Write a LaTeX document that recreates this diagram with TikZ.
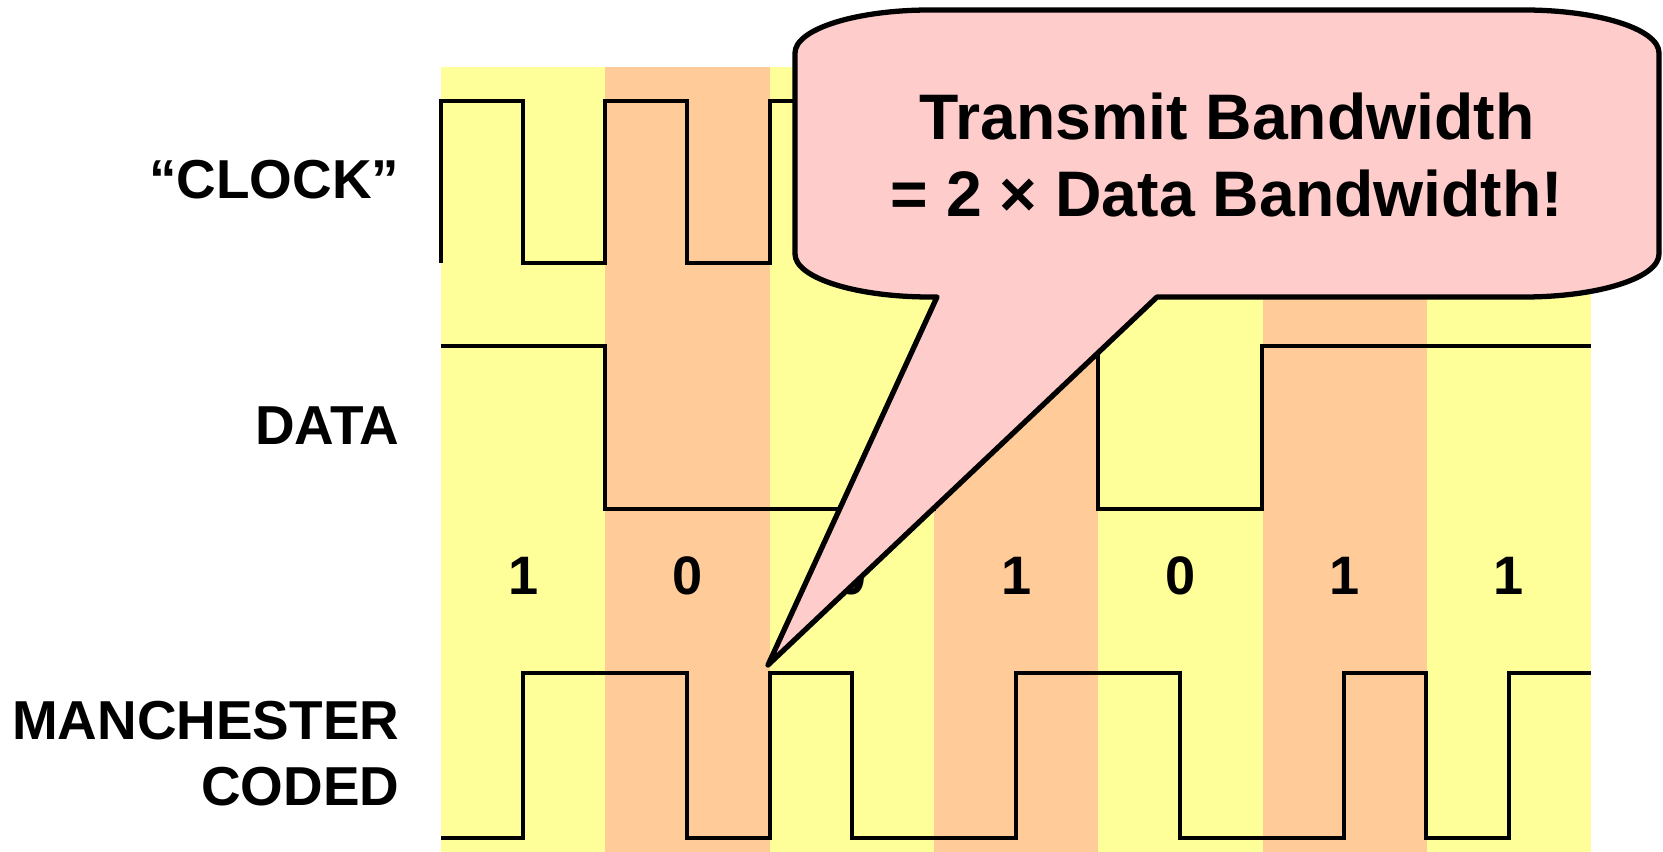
\documentclass[tikz,border=0pt]{standalone}
\usepackage{fontspec}
\setmainfont{Liberation Sans}
\usepackage{tikz}
\definecolor{lyellow}{RGB}{255,255,153}
\definecolor{lorange}{RGB}{255,204,153}
\definecolor{lpink}{RGB}{255,204,204}

\begin{document}
\begin{tikzpicture}[x=0.01cm,y=-0.01cm]
\tikzstyle{lbl}=[inner sep=0pt,font=\fontsize{15.6}{18.8}\selectfont\bfseries,align=right]
\tikzstyle{bit}=[inner sep=0pt,font=\fontsize{15.4}{18.8}\selectfont\bfseries]
\tikzstyle{wave}=[line width=1.1pt]
\tikzstyle{bubble}=[fill=lpink,draw=black,line width=1.5pt,line join=round]
\useasboundingbox (0,0) rectangle (1663,852);

% bit cells
\foreach \i in {0,2,4,6}
  \fill[lyellow] ({441+\i*164.3},67) rectangle ({441+(\i+1)*164.3},852);
\foreach \i in {1,3,5}
  \fill[lorange] ({441+\i*164.3},67) rectangle ({441+(\i+1)*164.3},852);

% signal names
\node[lbl,anchor=base east] (clk) at (400,199) {“CLOCK”};
\node[lbl,anchor=base east] (dat) at (400,445) {DATA};
\node[lbl,anchor=east] (man) at (400,754) {MANCHESTER\\CODED};

% waveforms
\draw[wave] (441,263) |- (523,101) |- (605,263) |- (687,101) |- (770,263)
  |- (852,101) |- (934,263) |- (1016,101) |- (1098,263) |- (1180,101)
  |- (1262,263) |- (1344,101) |- (1426,263) |- (1509,101) |- (1591,263);
\draw[wave] (441,346) -| (605,509) -| (934,346) -| (1098,509) -| (1262,346) -- (1591,346);
\draw[wave] (441,838) -| (523,673) -| (687,838) -| (770,673) -| (852,838)
  -| (1016,673) -| (1180,838) -| (1344,673) -| (1426,838) -| (1509,673) -- (1591,673);

\foreach \b [count=\i from 0] in {1,0,0,1,0,1,1}
  \node[bit] (b\i) at ({441+(\i+0.5)*164.3},576) {\b};

% callout
\coordinate (tip) at (768,665);
\draw[bubble] (937,297) -- (tip) -- (1157,297) -- (1524,297)
  .. controls (1598,297) and (1659,278) .. (1659,254) -- (1659,53)
  .. controls (1659,29) and (1598,10) .. (1524,10) -- (930,10)
  .. controls (856,10) and (795,29) .. (795,53) -- (795,254)
  .. controls (795,278) and (856,297) .. (930,297) -- cycle;
\node[inner sep=0pt,align=center,font=\fontsize{18.3}{22.1}\selectfont\bfseries] (bw) at (1227,155)
  {Transmit Bandwidth\\= 2 × Data Bandwidth!};
\end{tikzpicture}
\end{document}
